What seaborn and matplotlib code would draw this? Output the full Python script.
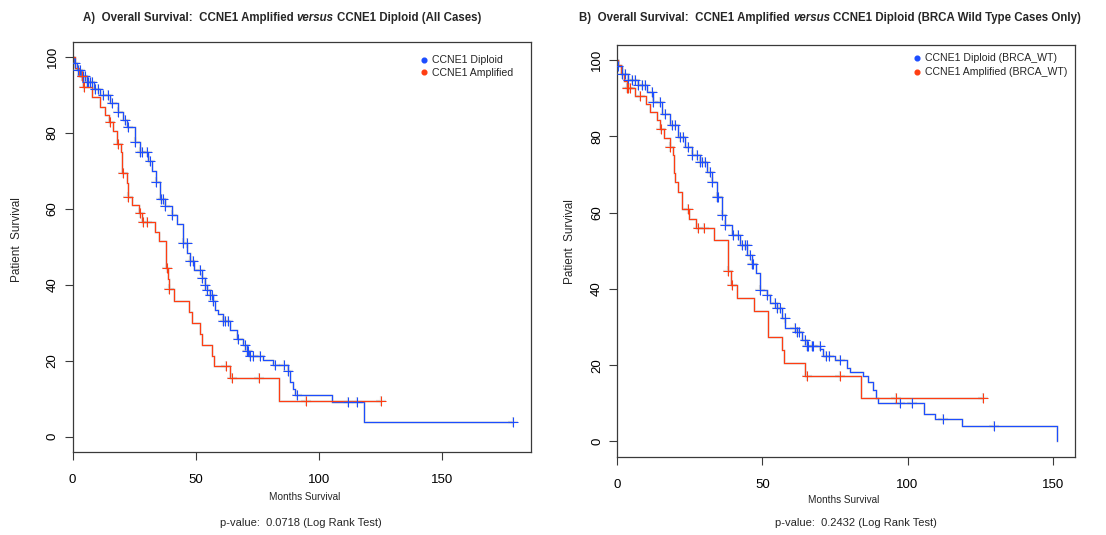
import numpy as np
import pandas as pd
import matplotlib
matplotlib.use("Agg")
import matplotlib.pyplot as plt
import seaborn as sns
from matplotlib.lines import Line2D

# ---------------- data ----------------
# Panel A: all cases
a_dip_t = [0, 0.5, 1.6, 3.5, 5.7, 8.5, 11.1, 15.2, 18.5, 20.5, 22.0, 25.3, 27.4, 30.7, 32.1,
           33.9, 35.5, 37.5, 40.2, 42.3, 44.7, 46.6, 47.7, 49.3, 52.4, 53.8, 54.5, 55.8,
           56.9, 57.8, 59.2, 61.2, 63.9, 66.7, 69.3, 70.7, 71.8, 77.5, 81.5, 87.6, 88.3,
           89.4, 90.4, 105.3, 118.5, 179.1]
a_dip_s = [100, 98.5, 96.5, 95.0, 93.5, 91.5, 90.0, 87.8, 85.5, 83.5, 81.5, 77.5, 75.0, 72.5, 70.0,
           67.0, 62.5, 60.8, 58.3, 56.0, 51.0, 48.3, 46.2, 43.8, 41.8, 40.0, 38.5, 37.2,
           35.8, 33.3, 32.2, 30.5, 28.0, 25.8, 24.0, 22.6, 21.3, 20.2, 18.8, 17.3, 14.3,
           12.5, 10.9, 9.0, 3.7, 3.7]
a_dip_cens = [0.9, 2.3, 3.0, 3.6, 4.3, 5.0, 5.7, 6.4, 7.0, 7.7, 9.0, 10.4, 12.5, 14.5, 15.8,
              18.6, 21.3, 22.6, 25.3, 27.4, 28.0, 30.1, 31.4, 33.9, 35.8, 36.9, 37.5, 40.2,
              44.7, 46.4, 47.7, 49.0, 51.7, 52.4, 53.8, 54.5, 55.8, 56.5, 57.2, 61.2, 61.9,
              63.3, 67.3, 70.0, 70.7, 71.4, 72.0, 73.4, 76.1, 82.2, 85.9, 87.6, 91.0, 112.0,
              115.4, 179.1]

a_amp_t = [0, 1.0, 2.5, 4.3, 8.0, 11.1, 13.1, 14.8, 16.5, 18.2, 19.5, 20.1, 22.0, 22.5, 24.0,
           26.9, 28.2, 33.5, 35.2, 37.9, 38.6, 39.0, 41.3, 47.4, 48.4, 51.9, 52.4, 56.5,
           57.6, 64.1, 83.9, 125.3]
a_amp_s = [100, 97.0, 95.0, 92.0, 89.5, 86.8, 84.8, 82.8, 80.5, 77.0, 75.0, 69.3, 66.7, 63.2, 61.0,
           58.8, 56.6, 54.0, 51.4, 44.3, 41.5, 38.8, 35.6, 32.8, 30.0, 26.9, 24.1, 21.2,
           18.5, 15.4, 9.4, 9.4]
a_amp_cens = [3.6, 4.5, 15.2, 18.5, 20.3, 22.6, 27.4, 28.7, 30.3, 38.2, 39.2, 62.2, 64.8,
              75.8, 94.9, 125.3]

# Panel B: BRCA wild type cases only
b_dip_t = [0, 0.5, 1.6, 3.9, 7.3, 10.2, 12.5, 15.4, 18.3, 21.1, 23.4, 25.7, 28.6, 30.9, 32.6,
           34.3, 36.0, 37.2, 39.5, 42.4, 44.7, 46.4, 47.7, 49.2, 51.5, 52.7, 55.0, 56.7,
           57.9, 61.9, 63.6, 65.3, 69.9, 70.8, 75.1, 79.1, 80.2, 84.8, 86.5, 88.0, 89.2,
           90.0, 105.5, 109.5, 118.9, 151.6]
b_dip_s = [100, 98.5, 96.5, 94.8, 93.4, 91.7, 89.1, 86.0, 82.9, 79.9, 77.3, 75.1, 73.4, 70.7, 68.1,
           64.2, 59.4, 56.8, 54.2, 51.5, 48.9, 46.5, 44.1, 39.8, 38.4, 36.3, 35.0, 32.3,
           29.7, 28.8, 26.7, 25.1, 24.2, 22.3, 21.4, 19.3, 18.1, 17.1, 15.5, 13.5, 11.4,
           10.2, 7.3, 5.9, 4.0, 0.0]
b_dip_cens = [0.5, 1.6, 2.8, 3.9, 5.0, 6.2, 7.3, 8.5, 9.6, 11.9, 12.5, 14.8, 16.5, 18.8, 20.0,
              21.7, 22.8, 24.6, 25.7, 27.4, 28.6, 29.2, 30.3, 32.0, 32.6, 34.3, 34.9, 36.0,
              37.2, 40.0, 41.8, 42.9, 44.0, 44.6, 45.8, 46.4, 46.9, 49.2, 51.5, 54.4, 55.0,
              56.1, 57.8, 61.3, 61.9, 62.7, 64.7, 65.3, 65.9, 67.0, 67.6, 69.7, 72.0, 72.8,
              76.6, 97.5, 101.5, 112.1, 129.8]

b_amp_t = [0, 0.5, 1.5, 2.5, 3.3, 6.2, 10.1, 11.4, 13.7, 14.8, 16.0, 18.3, 19.4, 19.7, 20.0,
           21.1, 22.5, 24.8, 27.1, 33.5, 38.1, 39.2, 41.2, 47.3, 51.9, 56.7, 57.5, 64.7,
           84.0, 125.9]
b_amp_s = [100, 98.7, 96.5, 94.5, 92.6, 90.6, 88.4, 86.3, 84.3, 81.9, 79.7, 77.3, 75.1, 70.3, 68.1,
           65.5, 61.0, 58.4, 55.9, 52.9, 44.6, 41.1, 37.6, 34.1, 27.4, 24.0, 20.6, 17.1,
           11.4, 11.4]
b_amp_cens = [3.5, 3.9, 4.5, 7.9, 15.1, 18.3, 24.4, 27.8, 30.1, 38.3, 39.6, 65.3, 76.8,
              96.0, 125.9]

x_ticks = [0, 50, 100, 150]
y_ticks = [0, 20, 40, 60, 80, 100]

title_a = ("A)  Overall Survival:  CCNE1 Amplified", "versus", "CCNE1 Diploid (All Cases)")
title_b = ("B)  Overall Survival:  CCNE1 Amplified", "versus",
           "CCNE1 Diploid (BRCA Wild Type Cases Only)")
legend_a = ["CCNE1 Diploid", "CCNE1 Amplified"]
legend_b = ["CCNE1 Diploid (BRCA_WT)", "CCNE1 Amplified (BRCA_WT)"]
pval_a = "p-value:  0.0718 (Log Rank Test)"
pval_b = "p-value:  0.2432 (Log Rank Test)"
xlabel = "Months Survival"
ylabel = "Patient  Survival"

BLUE = "#1c4dff"
RED = "#ff3d12"
SHADOW = "#8a8a8a"
FONT = ["Liberation Sans", "DejaVu Sans"]

# ---------------- style ----------------
sns.set_theme(style="white")
plt.rcParams["font.family"] = FONT

fig = plt.figure(figsize=(11.06, 5.35), dpi=100)
axA = fig.add_axes([0.0657, 0.1557, 0.4144, 0.7663])
axB = fig.add_axes([0.5579, 0.1464, 0.4141, 0.7695])


def draw_curve(ax, t, s, cens, color):
    t = np.asarray(t, float)
    s = np.asarray(s, float)
    df = pd.DataFrame({"t": t, "s": s})
    sns.lineplot(data=df, x="t", y="s", ax=ax, drawstyle="steps-post", estimator=None,
                 sort=False, color=SHADOW, lw=2.0, alpha=0.22)
    sns.lineplot(data=df, x="t", y="s", ax=ax, drawstyle="steps-post", estimator=None,
                 sort=False, color=color, lw=0.85)
    ct = np.asarray(cens, float)
    idx = np.clip(np.searchsorted(t, ct, side="right") - 1, 0, len(s) - 1)
    cs = s[idx]
    cdf = pd.DataFrame({"t": ct, "s": cs})
    sns.scatterplot(data=cdf, x="t", y="s", ax=ax, marker="+", s=48, color=SHADOW,
                    alpha=0.25, linewidth=1.6, legend=False, zorder=3)
    sns.scatterplot(data=cdf, x="t", y="s", ax=ax, marker="+", s=42, color=color,
                    linewidth=0.75, legend=False, zorder=4)


def style_axes(ax, xmax, leg_labels, leg_anchor, spacing):
    ax.set_xlim(0, 1.04 * xmax)
    ax.set_ylim(-4, 104)
    ax.set_xticks(x_ticks)
    ax.set_yticks(y_ticks)
    ax.set_xlabel("")
    ax.set_ylabel("")
    for sp in ax.spines.values():
        sp.set_visible(True)
        sp.set_color("#3a3a3a")
        sp.set_linewidth(0.9)
    ax.tick_params(axis="both", which="both", bottom=True, left=True, direction="out",
                   length=6, width=0.8, color="#3a3a3a", labelsize=9.5, labelcolor="black")
    ax.tick_params(axis="x", pad=10)
    ax.tick_params(axis="y", pad=4)
    for lab in ax.get_yticklabels():
        lab.set_rotation(90)
        lab.set_va("center")
    ax.grid(False)
    handles = [Line2D([], [], ls="", marker="o", markersize=3.4, color=BLUE),
               Line2D([], [], ls="", marker="o", markersize=3.4, color=RED)]
    ax.legend(handles, leg_labels, loc="upper left", bbox_to_anchor=leg_anchor, frameon=False,
              fontsize=7.6, handlelength=0.5, handletextpad=0.55, labelspacing=spacing,
              borderaxespad=0, borderpad=0.2)


draw_curve(axA, a_dip_t, a_dip_s, a_dip_cens, BLUE)
draw_curve(axA, a_amp_t, a_amp_s, a_amp_cens, RED)
draw_curve(axB, b_dip_t, b_dip_s, b_dip_cens, BLUE)
draw_curve(axB, b_amp_t, b_amp_s, b_amp_cens, RED)

style_axes(axA, max(a_dip_t + a_amp_t), legend_a, (0.756, 0.972), 0.25)
style_axes(axB, max(b_dip_t + b_amp_t), legend_b, (0.644, 0.985), 0.38)


def rich_title(pieces, cx, cy, size=8.3):
    r = fig.canvas.get_renderer()
    styles = ["normal", "italic", "normal"]
    probe1 = fig.text(0, 0, "a a", fontsize=size, fontweight="bold")
    probe2 = fig.text(0, 0, "aa", fontsize=size, fontweight="bold")
    space = probe1.get_window_extent(r).width - probe2.get_window_extent(r).width
    probe1.remove()
    probe2.remove()
    texts, widths = [], []
    for p, st in zip(pieces, styles):
        t = fig.text(0, cy, p, fontsize=size, fontweight="bold", style=st, va="center",
                     ha="left")
        texts.append(t)
        widths.append(t.get_window_extent(r).width)
    total = sum(widths) + space * (len(pieces) - 1)
    W = fig.bbox.width
    x = cx * W - total / 2
    for t, w in zip(texts, widths):
        t.set_x(x / W)
        x += w + space


rich_title(title_a, 0.255, 0.966)
rich_title(title_b, 0.7505, 0.966)

fig.text(0.0154, 0.552, ylabel, rotation=90, fontsize=8.5, ha="center", va="center")
fig.text(0.5154, 0.548, ylabel, rotation=90, fontsize=8.5, ha="center", va="center")
fig.text(0.2758, 0.071, xlabel, fontsize=7.2, ha="center", va="center")
fig.text(0.7630, 0.066, xlabel, fontsize=7.2, ha="center", va="center")
fig.text(0.2720, 0.0224, pval_a, fontsize=8, ha="center", va="center")
fig.text(0.7740, 0.0224, pval_b, fontsize=8, ha="center", va="center")

fig.savefig("out.png", dpi=100)
